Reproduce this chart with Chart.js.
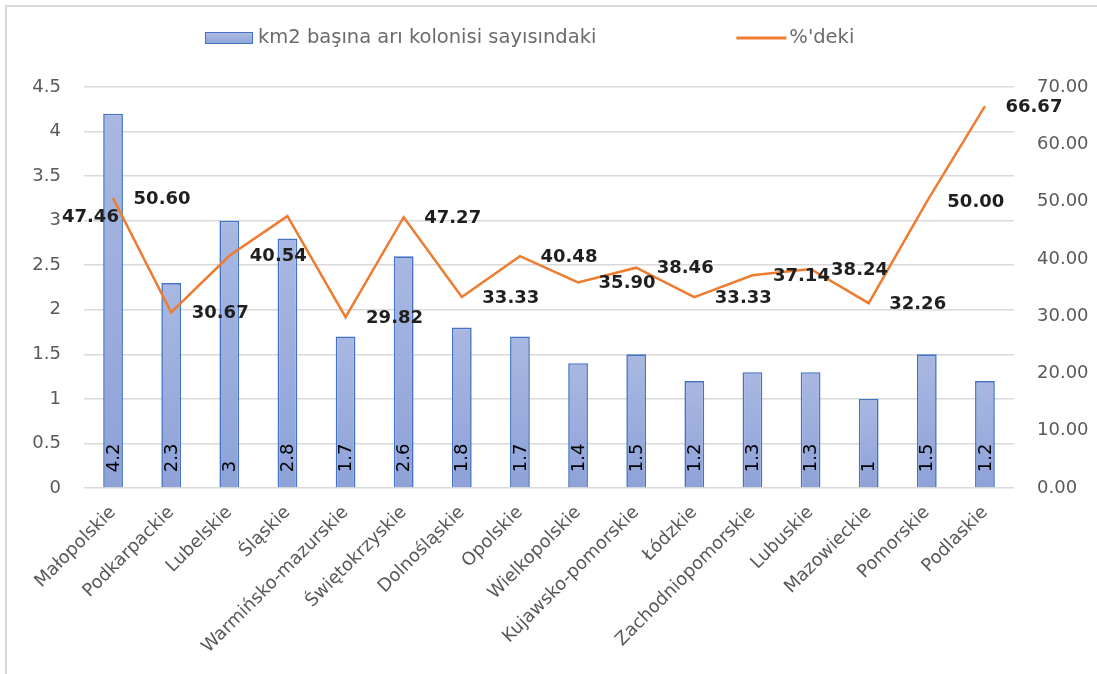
<!DOCTYPE html>
<html>
<head>
<meta charset="utf-8">
<script src="https://cdn.jsdelivr.net/npm/chart.js@4.4.0/dist/chart.umd.min.js"></script>
<style>
html, body { margin: 0; padding: 0; background: #fff; overflow: hidden; }
</style>
</head>
<body>
<canvas id="chart-area" width="1097" height="674"></canvas>
<script>
// bölgeler (województwa)
var regions = ["Małopolskie", "Podkarpackie", "Lubelskie", "Śląskie", "Warmińsko-mazurskie",
  "Świętokrzyskie", "Dolnośląskie", "Opolskie", "Wielkopolskie", "Kujawsko-pomorskie",
  "Łódzkie", "Zachodniopomorskie", "Lubuskie", "Mazowieckie", "Pomorskie", "Podlaskie"];
// km2 başına arı kolonisi
var colonies = [4.2, 2.3, 3, 2.8, 1.7, 2.6, 1.8, 1.7, 1.4, 1.5, 1.2, 1.3, 1.3, 1, 1.5, 1.2];
// %'deki
var percents = [50.60, 30.67, 40.54, 47.46, 29.82, 47.27, 33.33, 40.48, 35.90, 38.46,
  33.33, 37.14, 38.24, 32.26, 50.00, 66.67];
var leftTicks = [0, 0.5, 1, 1.5, 2, 2.5, 3, 3.5, 4, 4.5];
var rightTicks = [0, 10, 20, 30, 40, 50, 60, 70];
var seriesNames = ["km2 başına arı kolonisi sayısındaki", "%'deki"];

var FONT = '"DejaVu Sans", sans-serif';

// çerçeve + beyaz arka plan
var framePlugin = {
  id: 'frame',
  beforeDraw: function(chart) {
    var ctx = chart.ctx;
    ctx.save();
    ctx.fillStyle = '#fff';
    ctx.fillRect(0, 0, chart.width, chart.height);
    ctx.strokeStyle = '#d9d9d9';
    ctx.lineWidth = 2;
    ctx.beginPath();
    ctx.moveTo(6, chart.height);
    ctx.lineTo(6, 6);
    ctx.lineTo(chart.width, 6);
    ctx.stroke();
    ctx.restore();
  }
};

// değer etiketleri
var labelPlugin = {
  id: 'valueLabels',
  afterDatasetsDraw: function(chart, args, opts) {
    var ctx = chart.ctx;
    ctx.save();
    // sütun etiketleri (dikey)
    ctx.font = '18px ' + FONT;
    ctx.fillStyle = '#000';
    chart.getDatasetMeta(0).data.forEach(function(bar, i) {
      ctx.save();
      ctx.translate(bar.x + 1, bar.base - 15);
      ctx.rotate(-Math.PI / 2);
      ctx.textAlign = 'left';
      ctx.textBaseline = 'middle';
      ctx.fillText(String(colonies[i]), 0, 0);
      ctx.restore();
    });
    // çizgi etiketleri
    ctx.font = 'bold 18px ' + FONT;
    ctx.fillStyle = '#1f1f1f';
    ctx.textAlign = 'center';
    ctx.textBaseline = 'middle';
    chart.getDatasetMeta(1).data.forEach(function(pt, i) {
      var dx = opts.shift[i] !== undefined ? opts.shift[i] : opts.dx;
      ctx.fillText(percents[i].toFixed(2), pt.x + dx, pt.y + opts.dy);
    });
    ctx.restore();
  }
};

// gösterge
var legendPlugin = {
  id: 'customLegend',
  afterDraw: function(chart, args, opts) {
    var ctx = chart.ctx;
    var y = opts.y;
    ctx.save();
    ctx.font = '19.5px ' + FONT;
    ctx.textBaseline = 'middle';
    var x = opts.x;
    var bg = ctx.createLinearGradient(0, y - 6, 0, y + 6);
    bg.addColorStop(0, '#b1bee5');
    bg.addColorStop(1, '#8ea3d8');
    ctx.fillStyle = bg;
    ctx.fillRect(x, y - 6, 48, 12);
    ctx.strokeStyle = '#4472c4';
    ctx.lineWidth = 1;
    ctx.strokeRect(x + 0.5, y - 5.5, 47, 11);
    ctx.fillStyle = '#6b6b6b';
    ctx.fillText(seriesNames[0], x + 53, y);
    x = x + 53 + ctx.measureText(seriesNames[0]).width + opts.gap;
    ctx.strokeStyle = '#ed7d31';
    ctx.lineWidth = 3;
    ctx.beginPath();
    ctx.moveTo(x, y);
    ctx.lineTo(x + 50, y);
    ctx.stroke();
    ctx.fillText(seriesNames[1], x + 53, y);
    ctx.restore();
  }
};

function barFill(c) {
  var ch = c.chart;
  var ys = ch.scales && ch.scales.y;
  if (!ys || c.raw === undefined || !ch.chartArea) return '#9fb0dd';
  var top = ys.getPixelForValue(c.raw);
  var bot = ys.getPixelForValue(0);
  if (!isFinite(top) || !isFinite(bot) || top === bot) return '#9fb0dd';
  var g = ch.ctx.createLinearGradient(0, top, 0, bot);
  g.addColorStop(0, '#a9b8e2');
  g.addColorStop(1, '#8ea2d8');
  return g;
}

var ctx = document.getElementById("chart-area");
var myChart = new Chart(ctx, {
  type: 'bar',
  data: {
    labels: regions,
    datasets: [
      {
        type: 'bar',
        label: seriesNames[0],
        data: colonies,
        yAxisID: 'y',
        backgroundColor: barFill,
        borderColor: '#4472c4',
        borderWidth: 1.6,
        barPercentage: 0.34,
        categoryPercentage: 1,
        order: 1
      },
      {
        type: 'line',
        label: seriesNames[1],
        data: percents,
        yAxisID: 'y1',
        borderColor: '#ed7d31',
        backgroundColor: '#ed7d31',
        borderWidth: 2.5,
        pointRadius: 0,
        tension: 0,
        order: 0
      }
    ]
  },
  plugins: [framePlugin, labelPlugin, legendPlugin],
  options: {
    responsive: false,
    animation: false,
    layout: { padding: { left: 5, right: 0, top: 87, bottom: 0 } },
    plugins: {
      legend: { display: false },
      tooltip: { enabled: false },
      valueLabels: { dx: 49, dy: 1, shift: { 3: -197 } },
      customLegend: { x: 205, y: 38, gap: 140 }
    },
    scales: {
      x: {
        grid: { display: false },
        border: { display: false },
        ticks: {
          color: '#595959',
          font: { family: FONT, size: 18 },
          minRotation: 45,
          maxRotation: 45,
          padding: 6,
          autoSkip: false
        },
        afterFit: function(s) { s.height = 186; }
      },
      y: {
        position: 'left',
        min: 0,
        max: 4.5,
        afterBuildTicks: function(s) {
          s.ticks = leftTicks.map(function(v) { return { value: v }; });
        },
        ticks: {
          color: '#595959',
          font: { family: FONT, size: 18 },
          padding: 23,
          callback: function(v) { return String(v); }
        },
        grid: { color: '#d9d9d9', lineWidth: 1.5, drawTicks: false },
        border: { display: false },
        afterFit: function(s) { s.width = 79; }
      },
      y1: {
        position: 'right',
        min: 0,
        max: 70,
        afterBuildTicks: function(s) {
          s.ticks = rightTicks.map(function(v) { return { value: v }; });
        },
        ticks: {
          color: '#595959',
          font: { family: FONT, size: 18 },
          padding: 23,
          callback: function(v) { return Number(v).toFixed(2); }
        },
        grid: { display: false, drawTicks: false },
        border: { display: false },
        afterFit: function(s) { s.width = 83; }
      }
    }
  }
});
</script>
</body>
</html>
